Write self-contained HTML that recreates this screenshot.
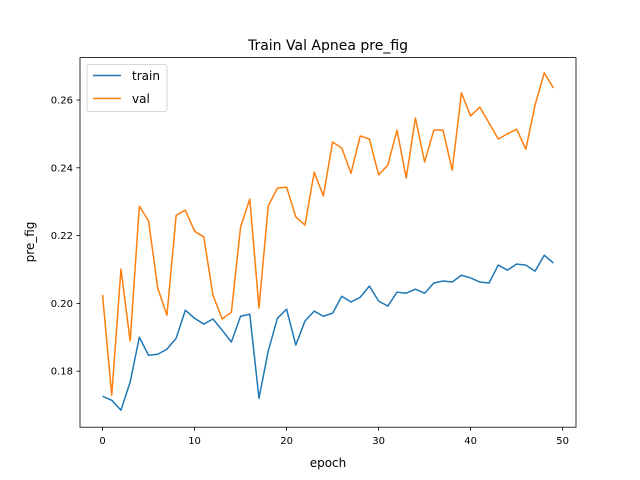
<!DOCTYPE html>
<html><head><meta charset="utf-8"><style>
body{margin:0;background:#fff;}
svg{display:block;font-family:"DejaVu Sans","Liberation Sans",sans-serif;}
</style></head><body>
<svg id="chart" width="640" height="480">
<rect x="0" y="0" width="640" height="480" fill="#fff"/>
<text x="328" y="50" text-anchor="middle" font-size="14">Train Val Apnea pre_fig</text>
<text x="328" y="467" text-anchor="middle" font-size="12">epoch</text>
<text x="0" y="0" text-anchor="middle" font-size="12" transform="translate(34,242) rotate(-90)">pre_fig</text>
<g id="ticks"></g>
<g id="lines"></g>
<rect x="80" y="57.6" width="496" height="369.6" fill="none" stroke="#000" stroke-width="0.8"/>
<g>
<rect x="87" y="64.5" width="80" height="47" rx="2" fill="#fff" fill-opacity="0.8" stroke="#ccc" stroke-width="0.8"/>
<line x1="93" y1="75.5" x2="121" y2="75.5" stroke="#1f77b4" stroke-width="1.5"/>
<text x="132" y="80" font-size="12">train</text>
<line x1="93" y1="98.5" x2="121" y2="98.5" stroke="#ff7f0e" stroke-width="1.5"/>
<text x="132" y="103" font-size="12">val</text>
</g>
</svg>
<script>
const train = [0.1726,0.1714,0.1685,0.1768,0.1900,0.1847,0.1850,0.1865,0.1897,0.1980,0.1956,0.1939,0.1954,0.1921,0.1886,0.1962,0.1968,0.1720,0.1859,0.1956,0.1983,0.1877,0.1948,0.1977,0.1962,0.1971,0.2021,0.2004,0.2018,0.2051,0.2007,0.1992,0.2033,0.2030,0.2042,0.2030,0.2060,0.2066,0.2063,0.2083,0.2075,0.2063,0.2060,0.2113,0.2098,0.2116,0.2113,0.2095,0.2142,0.2119];
const val = [0.2025,0.1729,0.2101,0.1889,0.2287,0.2243,0.2045,0.1965,0.2260,0.2275,0.2213,0.2196,0.2024,0.1954,0.1974,0.2225,0.2308,0.1986,0.2287,0.2340,0.2343,0.2255,0.2231,0.2387,0.2317,0.2476,0.2458,0.2384,0.2494,0.2485,0.2379,0.2408,0.2511,0.2370,0.2547,0.2417,0.2511,0.2511,0.2393,0.2621,0.2553,0.2579,0.2532,0.2485,0.2500,0.2514,0.2455,0.2585,0.2680,0.2635];
const xTicks = [0,10,20,30,40,50];
const yTicks = [0.18,0.20,0.22,0.24,0.26];
const yTickLabels = ["0.18","0.20","0.22","0.24","0.26"];
const NS="http://www.w3.org/2000/svg";
const X0=80,X1=576,Y0=427.2,Y1=57.6;
const xmin=-2.45,xmax=51.45,ymin=0.16347,ymax=0.27251;
function sx(v){return X0+(v-xmin)/(xmax-xmin)*(X1-X0);}
function sy(v){return Y0-(v-ymin)/(ymax-ymin)*(Y0-Y1);}
const tg=document.getElementById('ticks');
xTicks.forEach(t=>{
  const l=document.createElementNS(NS,'line');
  l.setAttribute('x1',sx(t));l.setAttribute('x2',sx(t));l.setAttribute('y1',Y0);l.setAttribute('y2',Y0+3.5);
  l.setAttribute('stroke','#000');l.setAttribute('stroke-width','0.8');
  
  
  tg.appendChild(l);
  const tx=document.createElementNS(NS,'text');
  tx.setAttribute('x',sx(t));tx.setAttribute('y',Y0+17);tx.setAttribute('text-anchor','middle');tx.setAttribute('font-size','10');
  tx.textContent=String(t);
  
  
  tg.appendChild(tx);
});
yTicks.forEach((t,i)=>{
  const l=document.createElementNS(NS,'line');
  l.setAttribute('x1',X0-3.5);l.setAttribute('x2',X0);l.setAttribute('y1',sy(t));l.setAttribute('y2',sy(t));
  l.setAttribute('stroke','#000');l.setAttribute('stroke-width','0.8');
  
  
  tg.appendChild(l);
  const tx=document.createElementNS(NS,'text');
  tx.setAttribute('x',X0-7);tx.setAttribute('y',sy(t)+3.5);tx.setAttribute('text-anchor','end');tx.setAttribute('font-size','10');
  tx.textContent=yTickLabels[i];
  
  
  tg.appendChild(tx);
});
const lg=document.getElementById('lines');
[[train,'#1f77b4','train-line'],[val,'#ff7f0e','val-line']].forEach(([d,c,n])=>{
  const p=document.createElementNS(NS,'polyline');
  p.setAttribute('points',d.map((v,i)=>sx(i).toFixed(2)+','+sy(v).toFixed(2)).join(' '));
  p.setAttribute('fill','none');p.setAttribute('stroke',c);p.setAttribute('stroke-width','1.5');
  p.setAttribute('stroke-linejoin','round');
  
  
  lg.appendChild(p);
});
</script>
</body></html>
